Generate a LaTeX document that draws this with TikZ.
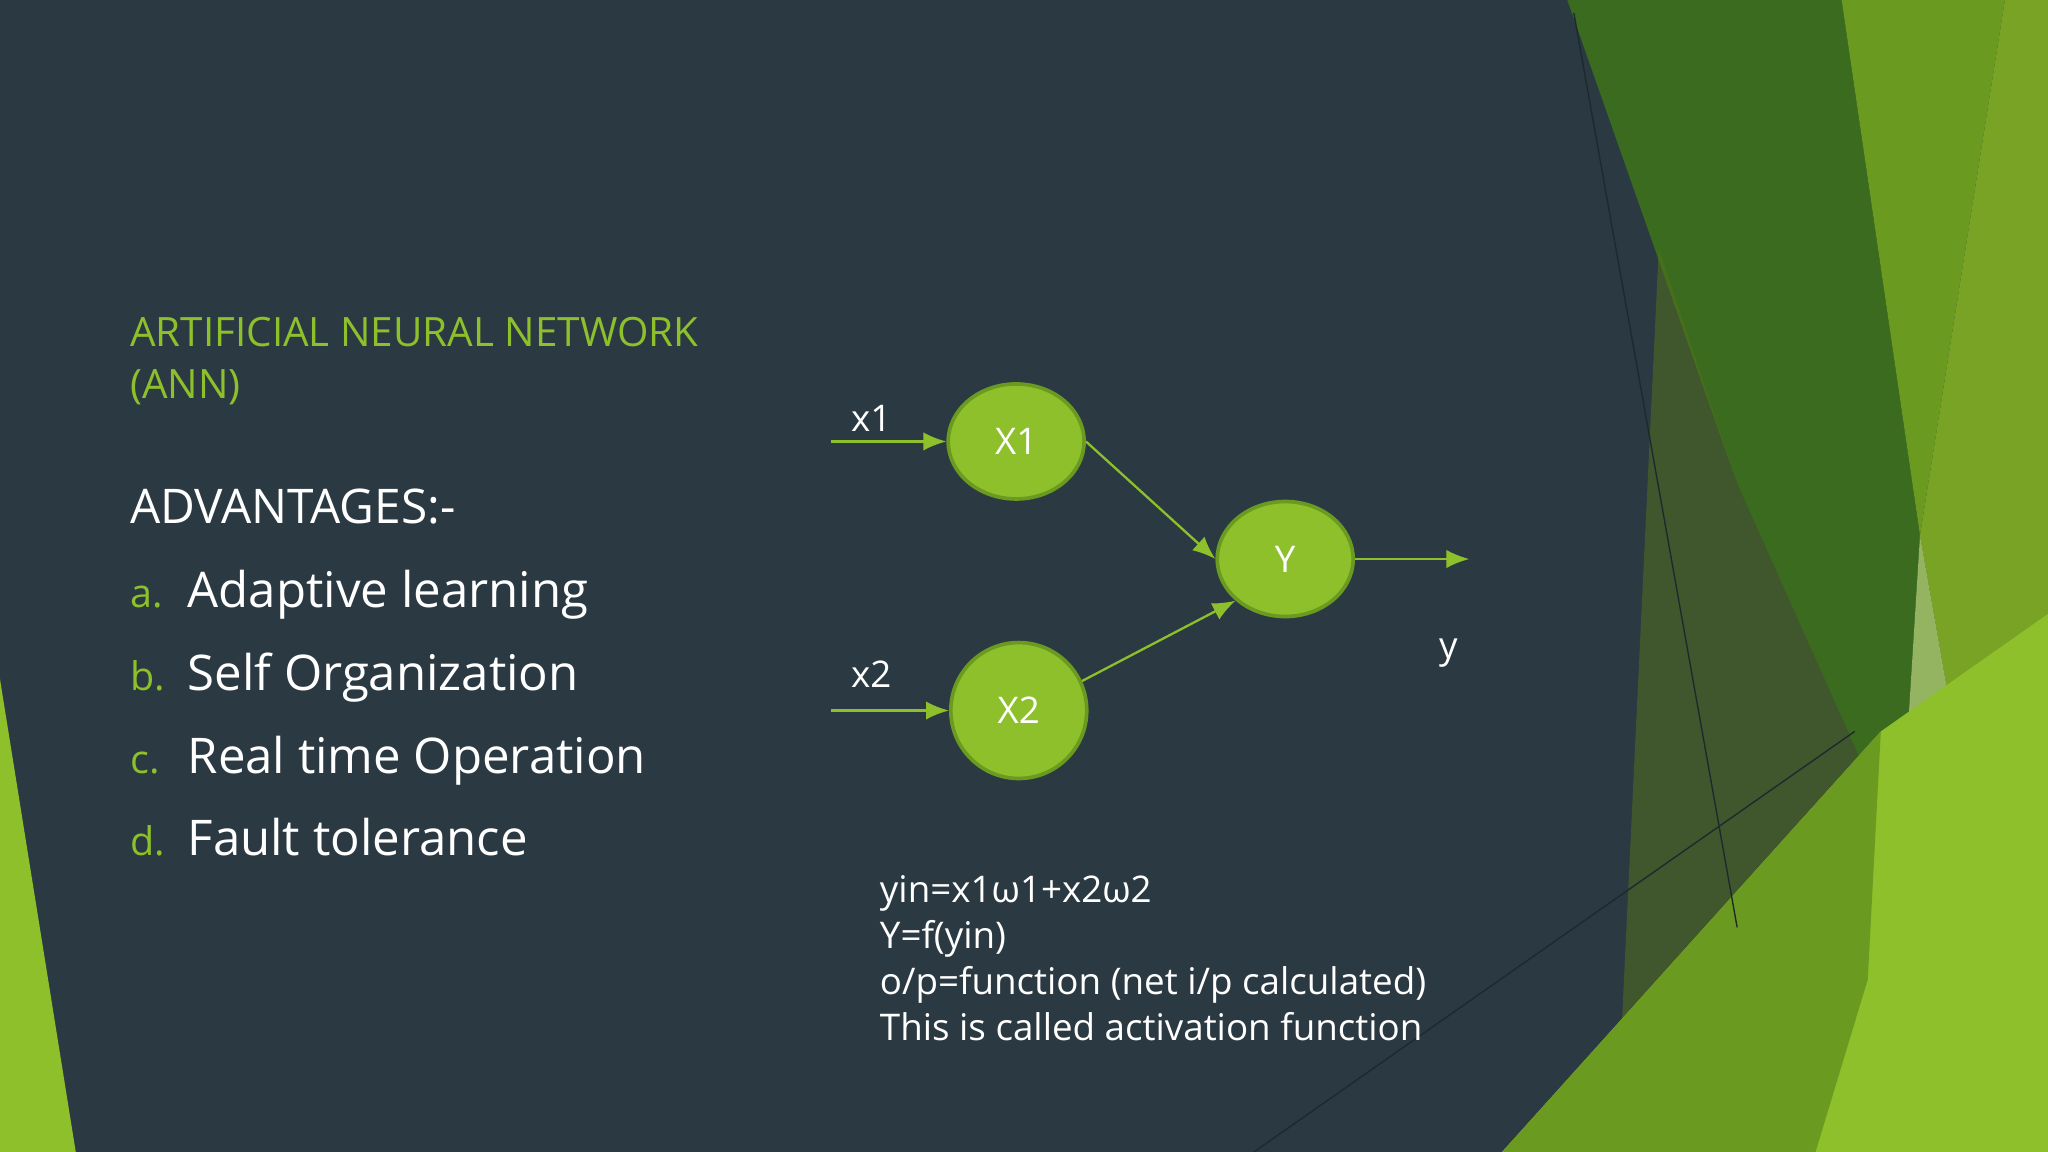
\documentclass[tikz,border=0pt]{standalone}
\usepackage{fontspec}
\setmainfont{Open Sans}
\usetikzlibrary{arrows.meta,shapes.geometric}
\definecolor{bg}{HTML}{2B3A42}
\definecolor{lg}{HTML}{8DC02A}
\definecolor{dg}{HTML}{3A6B1E}
\definecolor{mg}{HTML}{6A9A20}
\definecolor{bd}{HTML}{6A9A1F}
\begin{document}
\begin{tikzpicture}[x=0.01cm,y=-0.01cm,
 neuron/.style={ellipse,fill=lg,draw=bd,line width=0.8pt,text=white,font=\fontsize{8}{9}\selectfont},
 conn/.style={lg,line width=0.5pt,-{Latex[length=5pt,width=4pt]}},
 lbl/.style={text=white,font=\fontsize{8}{9}\selectfont},
 txt/.style={anchor=base west,inner sep=0pt}]
\fill[bg] (0,0) rectangle (1568,882);
\useasboundingbox (0,0) rectangle (1568,882);
% facets
\fill[dg] (1200,0) -- (1410,0) -- (1470,410) -- (1455,650) -- (1330,370) -- cycle;
\fill[mg] (1410,0) -- (1535,0) -- (1470,410) -- cycle;
\fill[lg!85!black] (1535,0) -- (1568,0) -- (1568,470) -- (1500,580) -- (1470,410) -- cycle;
\fill[white!30!lg,opacity=0.8] (1470,410) -- (1500,580) -- (1430,750) -- (1455,650) -- cycle;
\fill[black!40!lg,opacity=0.5] (1270,190) -- (1330,370) -- (1455,650) -- (1400,700) -- (1240,820) -- cycle;
\fill[lg] (1150,882) -- (1440,560) -- (1568,470) -- (1568,882) -- cycle;
\fill[mg] (1150,882) -- (1440,560) -- (1430,750) -- (1390,882) -- cycle;
\fill[lg] (0,520) -- (58,882) -- (0,882) -- cycle;
\draw[bg!70!black,line width=0.3pt] (1205,10) -- (1330,710);
\draw[bg!70!black,line width=0.3pt] (960,882) -- (1420,560);
% text
\node[txt,text=lg,font=\fontsize{8.8}{10}\selectfont] (t1) at (99,265) {ARTIFICIAL NEURAL NETWORK};
\node[txt,text=lg,font=\fontsize{8.8}{10}\selectfont] (t2) at (99,305) {(ANN)};
\node[txt,text=white,font=\fontsize{10.4}{12}\selectfont] (adv) at (99,401) {ADVANTAGES:-};
\foreach \l/\t/\yy [count=\i] in {a./Adaptive learning/465, b./Self Organization/529, c./Real time Operation/592, d./Fault tolerance/655}{
 \node[txt,text=lg,font=\fontsize{8.6}{10}\selectfont] (l\i) at (99,\yy) {\l};
 \node[txt,text=white,font=\fontsize{10.7}{12}\selectfont] (i\i) at (143,\yy) {\t};
}
% network
\node[neuron,minimum width=1.04cm,minimum height=0.88cm] (X1) at (778,338) {X1};
\node[neuron,minimum width=1.04cm,minimum height=0.88cm] (Y) at (984,428) {Y};
\node[neuron,minimum width=1.04cm,minimum height=1.04cm] (X2) at (780,544) {X2};
\coordinate (in1) at (636,338);
\coordinate (in2) at (636,544);
\coordinate (out) at (1125,428);
\draw[conn] (in1) -- (X1);
\draw[conn] (in2) -- (X2);
\draw[conn] (X1.east) -- (Y.west);
\draw[conn] (X2.25) -- (Y.220);
\draw[conn] (Y.east) -- (out);
\node[lbl] (lx1) at (667,320) {x1};
\node[lbl] (lx2) at (667,516) {x2};
\node[lbl] (ly) at (1109,500) {y};
\node[anchor=north west,text=white,font=\fontsize{8}{10}\selectfont,align=left,inner sep=0pt] (eq) at (673,670)
 {yin=x1ω1+x2ω2\\Y=f(yin)\\o/p=function (net i/p calculated)\\This is called activation function};
\end{tikzpicture}
\end{document}
